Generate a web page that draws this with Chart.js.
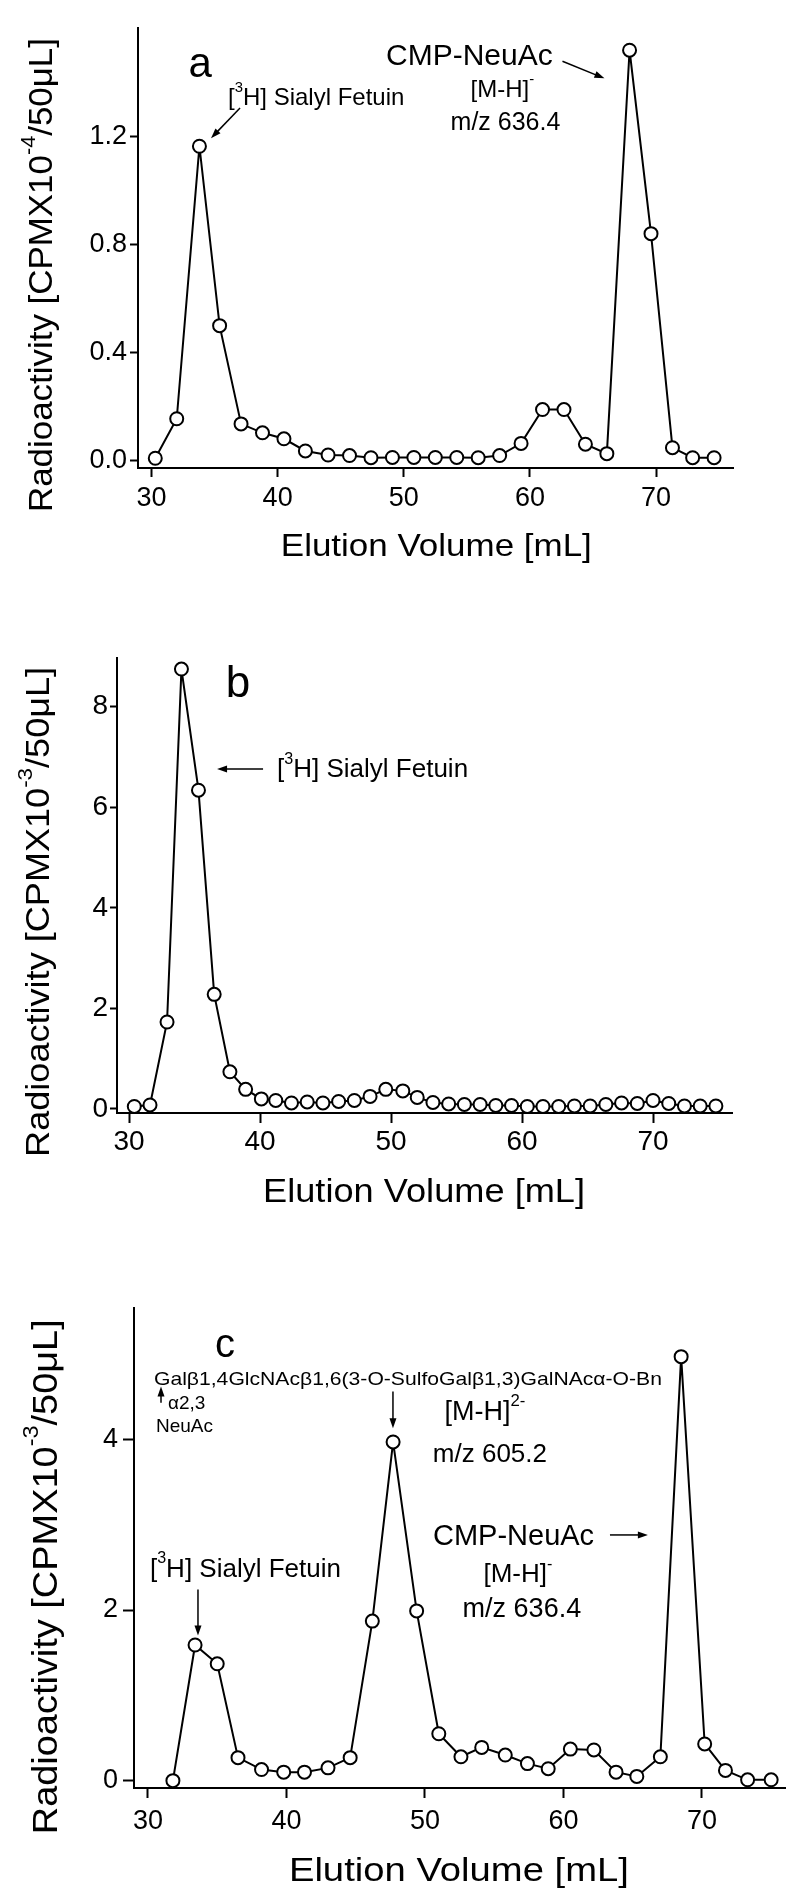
<!DOCTYPE html>
<html>
<head>
<meta charset="utf-8">
<script src="https://cdn.jsdelivr.net/npm/chart.js@4/dist/chart.umd.min.js"></script>
<style>
body { margin: 0; background: #fff; }
#page { position: relative; width: 800px; height: 1904px; }
#page canvas { position: absolute; left: 0; }
</style>
</head>
<body>
<div id="page">
  <canvas id="chartA" width="800" height="590" style="top:0px"></canvas>
  <canvas id="chartB" width="800" height="650" style="top:590px"></canvas>
  <canvas id="chartC" width="800" height="664" style="top:1240px"></canvas>
</div>
<script>
//////////////////
// Data

var volumeTicks = [30, 40, 50, 60, 70];

// a : CMP-NeuAc run (CPM x 10^-4 / 50 uL)
var volumeA = [30.3,32.0,33.8,35.4,37.1,38.8,40.5,42.2,44.0,45.7,47.4,49.1,50.8,52.5,54.2,55.9,57.6,59.3,61.0,62.7,64.4,66.1,67.9,69.6,71.3,72.9,74.6];
var activityA = [0.01,0.156,1.163,0.50,0.137,0.104,0.082,0.037,0.022,0.02,0.012,0.013,0.013,0.013,0.013,0.012,0.02,0.065,0.19,0.19,0.062,0.027,1.518,0.84,0.049,0.012,0.012];
var ticksA = [0, 0.4, 0.8, 1.2];

// b : sialyl fetuin (CPM x 10^-3 / 50 uL)
var volumeB = [30.4,31.6,32.9,34.0,35.3,36.5,37.7,38.9,40.1,41.2,42.4,43.6,44.8,46.0,47.2,48.4,49.6,50.9,52.0,53.2,54.4,55.6,56.8,58.0,59.2,60.4,61.6,62.8,64.0,65.2,66.4,67.6,68.8,70.0,71.2,72.4,73.6,74.8];
var activityB = [0.05,0.08,1.73,8.75,6.34,2.28,0.74,0.39,0.20,0.17,0.12,0.14,0.12,0.15,0.17,0.25,0.39,0.36,0.23,0.13,0.10,0.09,0.09,0.07,0.07,0.05,0.05,0.05,0.06,0.06,0.09,0.12,0.11,0.17,0.11,0.06,0.06,0.06];
var ticksB = [0, 2, 4, 6, 8];

// c : transfer to the sulfated acceptor (CPM x 10^-3 / 50 uL)
var volumeC = [31.8,33.4,35.0,36.5,38.2,39.8,41.3,43.0,44.6,46.2,47.7,49.4,51.0,52.6,54.1,55.8,57.4,58.9,60.5,62.2,63.8,65.3,67.0,68.5,70.2,71.7,73.3,75.0];
var activityC = [0.0,1.59,1.37,0.27,0.13,0.10,0.10,0.15,0.27,1.87,3.97,1.99,0.55,0.28,0.39,0.30,0.20,0.14,0.37,0.36,0.10,0.05,0.28,4.97,0.43,0.12,0.01,0.01];
var ticksC = [0, 2, 4];

var FONT = "'Liberation Sans', Arial, Helvetica, sans-serif";

// "^...^" marks a superscript run
function splitSup(str) {
  var out = [], sup = false;
  str.split('^').forEach(function (s) {
    if (s) out.push({ t: s, sup: sup });
    sup = !sup;
  });
  return out;
}

function drawRich(ctx, str, x, y, size, align, fitWidth) {
  var segs = splitSup(str), w = 0;
  segs.forEach(function (s) {
    ctx.font = (s.sup ? size * 0.62 : size) + 'px ' + FONT;
    s.w = ctx.measureText(s.t).width;
    w += s.w;
  });
  var sx = fitWidth ? fitWidth / w : 1;
  var cx = align === 'center' ? -w / 2 : (align === 'right' ? -w : 0);
  ctx.save();
  ctx.translate(x, y);
  ctx.scale(sx, 1);
  ctx.textAlign = 'left';
  ctx.textBaseline = 'middle';
  ctx.fillStyle = '#000';
  segs.forEach(function (s) {
    ctx.font = (s.sup ? size * 0.62 : size) + 'px ' + FONT;
    ctx.fillText(s.t, cx, s.sup ? -size * 0.42 : 0);
    cx += s.w;
  });
  ctx.restore();
}

function drawArrow(ctx, x1, y1, x2, y2) {
  var a = Math.atan2(y2 - y1, x2 - x1), h = 10, w = 3.5;
  ctx.save();
  ctx.strokeStyle = '#000';
  ctx.fillStyle = '#000';
  ctx.lineWidth = 1.5;
  ctx.beginPath();
  ctx.moveTo(x1, y1);
  ctx.lineTo(x2 - h * 0.8 * Math.cos(a), y2 - h * 0.8 * Math.sin(a));
  ctx.stroke();
  ctx.beginPath();
  ctx.moveTo(x2, y2);
  ctx.lineTo(x2 - h * Math.cos(a) + w * Math.sin(a), y2 - h * Math.sin(a) - w * Math.cos(a));
  ctx.lineTo(x2 - h * Math.cos(a) - w * Math.sin(a), y2 - h * Math.sin(a) + w * Math.cos(a));
  ctx.closePath();
  ctx.fill();
  ctx.restore();
}

// labels, arrows and axis titles, placed in data units
function notesPlugin(notes) {
  return {
    id: 'notes',
    afterDraw: function (chart) {
      var ctx = chart.ctx, sx = chart.scales.x, sy = chart.scales.y, area = chart.chartArea;
      notes.texts.forEach(function (t) {
        drawRich(ctx, t.text, sx.getPixelForValue(t.x), sy.getPixelForValue(t.y), t.size, t.align || 'left', t.bold);
      });
      notes.arrows.forEach(function (a) {
        drawArrow(ctx, sx.getPixelForValue(a[0]), sy.getPixelForValue(a[1]), sx.getPixelForValue(a[2]), sy.getPixelForValue(a[3]));
      });
      var xt = notes.xTitle;
      drawRich(ctx, xt.text, sx.getPixelForValue(xt.x), area.bottom + xt.dy, xt.size, 'center', xt.width);
      var yt = notes.yTitle;
      ctx.save();
      ctx.translate(yt.cx, sy.getPixelForValue(yt.y));
      ctx.rotate(-Math.PI / 2);
      drawRich(ctx, yt.text, 0, 0, yt.size, 'center', yt.length);
      ctx.restore();
    }
  };
}

function makeProfile(id, xs, ys, yTicks, p, notes) {
  var points = xs.map(function (x, i) { return { x: x, y: ys[i] }; });
  return new Chart(document.getElementById(id), {
    type: 'scatter',
    data: {
      datasets: [{
        data: points,
        showLine: true,
        borderColor: '#000',
        borderWidth: 2,
        pointRadius: 6.5,
        pointBorderWidth: 2,
        pointBackgroundColor: '#fff',
        pointBorderColor: '#000',
        clip: false
      }]
    },
    options: {
      responsive: false,
      animation: false,
      layout: { padding: { left: 0, top: p.top, right: p.right, bottom: 0 } },
      plugins: { legend: { display: false }, tooltip: { enabled: false } },
      scales: {
        x: {
          type: 'linear',
          min: p.xMin, max: p.xMax,
          afterBuildTicks: function (s) { s.ticks = volumeTicks.map(function (v) { return { value: v }; }); },
          afterFit: function (s) { s.height = p.xAxisH; },
          ticks: { color: '#000', font: { family: FONT, size: p.tickFont }, padding: p.xPad, maxRotation: 0 },
          grid: { drawOnChartArea: false, drawTicks: true, tickLength: p.xTick, tickWidth: 2, tickColor: '#000' },
          border: { display: true, color: '#000', width: 2 }
        },
        y: {
          type: 'linear',
          min: p.yMin, max: p.yMax,
          afterBuildTicks: function (s) { s.ticks = yTicks.map(function (v) { return { value: v }; }); },
          afterFit: function (s) { s.width = p.left; },
          ticks: {
            color: '#000', font: { family: FONT, size: p.tickFont }, padding: p.yPad,
            callback: function (v) { return p.decimals ? v.toFixed(p.decimals) : String(v); }
          },
          grid: { drawOnChartArea: false, drawTicks: true, tickLength: p.yTick, tickWidth: 2, tickColor: '#000' },
          border: { display: true, color: '#000', width: 2 }
        }
      }
    },
    plugins: [notesPlugin(notes)]
  });
}

var chartA = makeProfile('chartA', volumeA, activityA, ticksA,
  { left: 138, top: 28, right: 67, xAxisH: 122, xMin: 28.93, xMax: 76.1, yMin: -0.026, yMax: 1.6,
    tickFont: 27, xPad: 5, xTick: 9, yPad: 3, yTick: 8, decimals: 1 },
  {
    texts: [
      { text: 'a', x: 33.85, y: 1.462, size: 42, align: 'center' },
      { text: '[^3^H] Sialyl Fetuin', x: 36.07, y: 1.34, size: 24 },
      { text: 'CMP-NeuAc', x: 55.2, y: 1.492, size: 30, align: 'center' },
      { text: '[M-H]^-^', x: 57.82, y: 1.37, size: 24, align: 'center' },
      { text: 'm/z 636.4', x: 58.06, y: 1.248, size: 25, align: 'center' }
    ],
    arrows: [[37.02, 1.304, 34.72, 1.193], [62.58, 1.477, 65.91, 1.414]],
    xTitle: { text: 'Elution Volume [mL]', x: 52.58, dy: 79, size: 32, width: 311 },
    yTitle: { text: 'Radioactivity [CPMX10^-4^/50\u03bcL]', cx: 43, y: 0.687, size: 33, length: 474 }
  });

var chartB = makeProfile('chartB', volumeB, activityB, ticksB,
  { left: 117, top: 68, right: 68, xAxisH: 127, xMin: 29.08, xMax: 76.03, yMin: -0.08, yMax: 8.97,
    tickFont: 28, xPad: 2, xTick: 10, yPad: 2, yTick: 7, decimals: 0 },
  {
    texts: [
      { text: 'b', x: 38.32, y: 8.43, size: 44, align: 'center' },
      { text: '[^3^H] Sialyl Fetuin', x: 41.3, y: 6.74, size: 26 }
    ],
    arrows: [[40.23, 6.76, 36.72, 6.76]],
    xTitle: { text: 'Elution Volume [mL]', x: 52.52, dy: 80, size: 33, width: 322 },
    yTitle: { text: 'Radioactivity [CPMX10^-3^/50\u03bcL]', cx: 40, y: 3.92, size: 34, length: 490 }
  });

var chartC = makeProfile('chartC', volumeC, activityC, ticksC,
  { left: 134, top: 68, right: 15, xAxisH: 116, xMin: 28.99, xMax: 76.0, yMin: -0.086, yMax: 5.54,
    tickFont: 27, xPad: 7, xTick: 10, yPad: 5, yTick: 11, decimals: 0 },
  {
    texts: [
      { text: 'c', x: 35.56, y: 5.10, size: 40, align: 'center' },
      { text: 'Gal\u03b21,4GlcNAc\u03b21,6(3-O-SulfoGal\u03b21,3)GalNAc\u03b1-O-Bn', x: 30.43, y: 4.70, size: 19, bold: 508 },
      { text: '\u03b12,3', x: 31.44, y: 4.42, size: 19 },
      { text: 'NeuAc', x: 30.58, y: 4.15, size: 19 },
      { text: '[M-H]^2-^', x: 54.33, y: 4.31, size: 27, align: 'center' },
      { text: 'm/z 605.2', x: 54.69, y: 3.82, size: 26, align: 'center' },
      { text: 'CMP-NeuAc', x: 50.58, y: 2.86, size: 29 },
      { text: '[M-H]^-^', x: 56.71, y: 2.41, size: 26, align: 'center' },
      { text: 'm/z 636.4', x: 57.0, y: 2.0, size: 27, align: 'center' },
      { text: '[^3^H] Sialyl Fetuin', x: 30.14, y: 2.47, size: 26 }
    ],
    arrows: [[30.94, 4.43, 30.94, 4.62], [47.69, 4.56, 47.69, 4.13], [63.36, 2.88, 66.1, 2.88], [33.61, 2.24, 33.61, 1.70]],
    xTitle: { text: 'Elution Volume [mL]', x: 52.45, dy: 84, size: 34, width: 340 },
    yTitle: { text: 'Radioactivity [CPMX10^-3^/50\u03bcL]', cx: 47, y: 2.39, size: 35, length: 515 }
  });
</script>
</body>
</html>
